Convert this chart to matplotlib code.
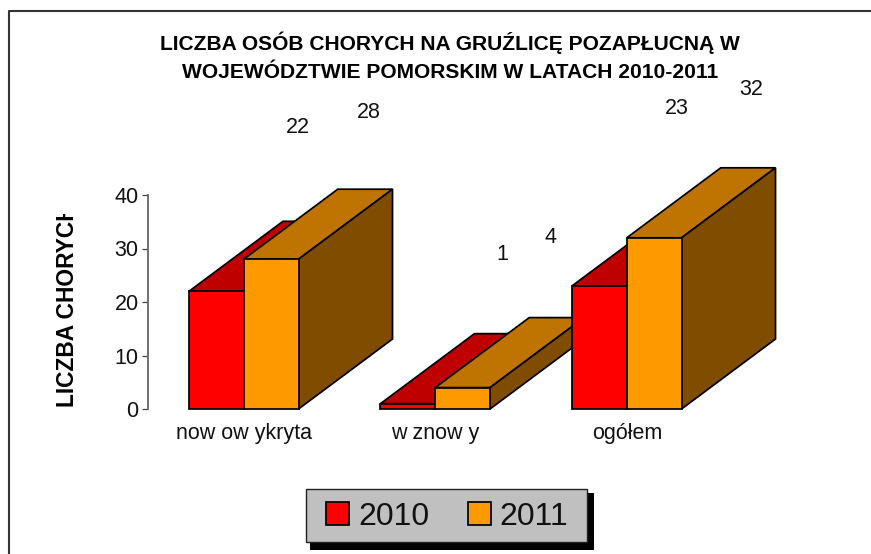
import matplotlib
matplotlib.use("Agg")
import matplotlib.pyplot as plt
from matplotlib.lines import Line2D
from matplotlib.patches import Patch, Rectangle
from matplotlib.transforms import Bbox

categories = ["now ow ykryta", "w znow y", "ogółem"]
series_names = ["2010", "2011"]
values_2010 = [22, 1, 23]
values_2011 = [28, 4, 32]
y_ticks = [0, 10, 20, 30, 40]
title_lines = ["LICZBA OSÓB CHORYCH NA GRUŹLICĘ POZAPŁUCNĄ W",
               "WOJEWÓDZTWIE POMORSKIM W LATACH 2010-2011"]
y_label = "LICZBA CHORYCH"

W, H = 871, 554
plt.rcParams["font.family"] = ["Liberation Sans", "DejaVu Sans"]
fig = plt.figure(figsize=(W / 100, H / 100), dpi=100, facecolor="white")
fx = lambda x: x / W
fy = lambda y: 1 - y / H

# plot area: y axis at px 148, value 0 at row 409, value 40 at row 195
ax = fig.add_axes([fx(148), fy(409), 574.5 / W, 214 / H])
ax.patch.set_visible(False)
ax.set_xlim(-0.5, 2.5)
ax.set_ylim(0, 40)

BAR_W = 0.286
DEPTH_X = 94 / 191.5
DEPTH_Y = 70 / 5.35
styles = [
    {"front": "#FF0000", "top": "#BF0000", "side": "#800000"},
    {"front": "#FF9900", "top": "#BF7300", "side": "#804D00"},
]
all_values = [values_2010, values_2011]
label_offsets = [
    [(82, 164), (94, 149), (77, 177)],
    [(98, 147), (88, 150), (97, 148)],
]

z = 2
for g in range(len(categories)):
    for s, vals in enumerate(all_values):
        v = vals[g]
        x0 = g - BAR_W + s * BAR_W
        x1 = x0 + BAR_W
        st = styles[s]
        kw = dict(edgecolor="black", linewidth=1.25, clip_on=False, joinstyle="miter")
        ax.fill([x0, x1, x1 + DEPTH_X, x0 + DEPTH_X],
                [v, v, v + DEPTH_Y, v + DEPTH_Y], facecolor=st["top"], zorder=z, **kw)
        ax.fill([x1, x1 + DEPTH_X, x1 + DEPTH_X, x1],
                [0, DEPTH_Y, v + DEPTH_Y, v], facecolor=st["side"], zorder=z, **kw)
        ax.bar(x0, v, width=BAR_W, align="edge", facecolor=st["front"], zorder=z, **kw)
        z += 1
        ax.annotate(str(v), xy=((x0 + x1) / 2, v), xytext=label_offsets[s][g],
                    textcoords="offset pixels", ha="center", va="center",
                    fontsize=15.5, color="#111111", annotation_clip=False, zorder=50)

for name in ["top", "right", "bottom"]:
    ax.spines[name].set_visible(False)
ax.spines["left"].set_color("#666666")
ax.spines["left"].set_linewidth(1.3)
ax.set_yticks(y_ticks)
ax.tick_params(axis="y", length=4.2, width=0.9, color="#444444", pad=2.5,
               labelsize=15.5, labelcolor="#111111")
ax.set_xticks(range(len(categories)))
ax.set_xticklabels(categories, fontsize=15.5, color="#111111")
ax.tick_params(axis="x", length=0, pad=10)

# outer chart frame: only the top and left edges fall inside the picture
fig.add_artist(Line2D([fx(9), fx(9), 1], [0, fy(10.5), fy(10.5)],
                      color="#333333", linewidth=1.5))

for line, base in zip(title_lines, [49.5, 78]):
    fig.text(fx(450), fy(base), line, ha="center", va="baseline",
             fontsize=15.1, fontweight="bold", color="#000000")

# y-axis title, clipped at its top end as in the source picture
yl = fig.text(fx(67.5), fy(407), y_label, rotation=90, ha="center", va="bottom",
              fontsize=16.4, fontweight="bold", color="#000000")
yl.set_clip_box(Bbox([[0, H - 420], [W, H - 214]]))
yl.set_clip_on(True)

# legend: shadow, box, entries
fig.add_artist(Rectangle((fx(310), fy(550)), 284 / W, 57 / H, transform=fig.transFigure,
                         facecolor="black", edgecolor="none"))
fig.add_artist(Rectangle((fx(306), fy(542)), 281 / W, 53 / H, transform=fig.transFigure,
                         facecolor="#C0C0C0", edgecolor="#222222", linewidth=1.0))
handles = [Patch(facecolor=styles[i]["front"], edgecolor="black", linewidth=1.25)
           for i in range(2)]
leg = fig.legend(handles, series_names, ncol=2, loc="center",
                 bbox_to_anchor=(fx(447.5), fy(517)), frameon=False, fontsize=23,
                 handlelength=0.72, handleheight=0.72, handletextpad=0.28,
                 columnspacing=1.2, borderpad=0, labelcolor="#111111")
leg.set_zorder(10)

fig.savefig("out.png", dpi=100, facecolor="white")
